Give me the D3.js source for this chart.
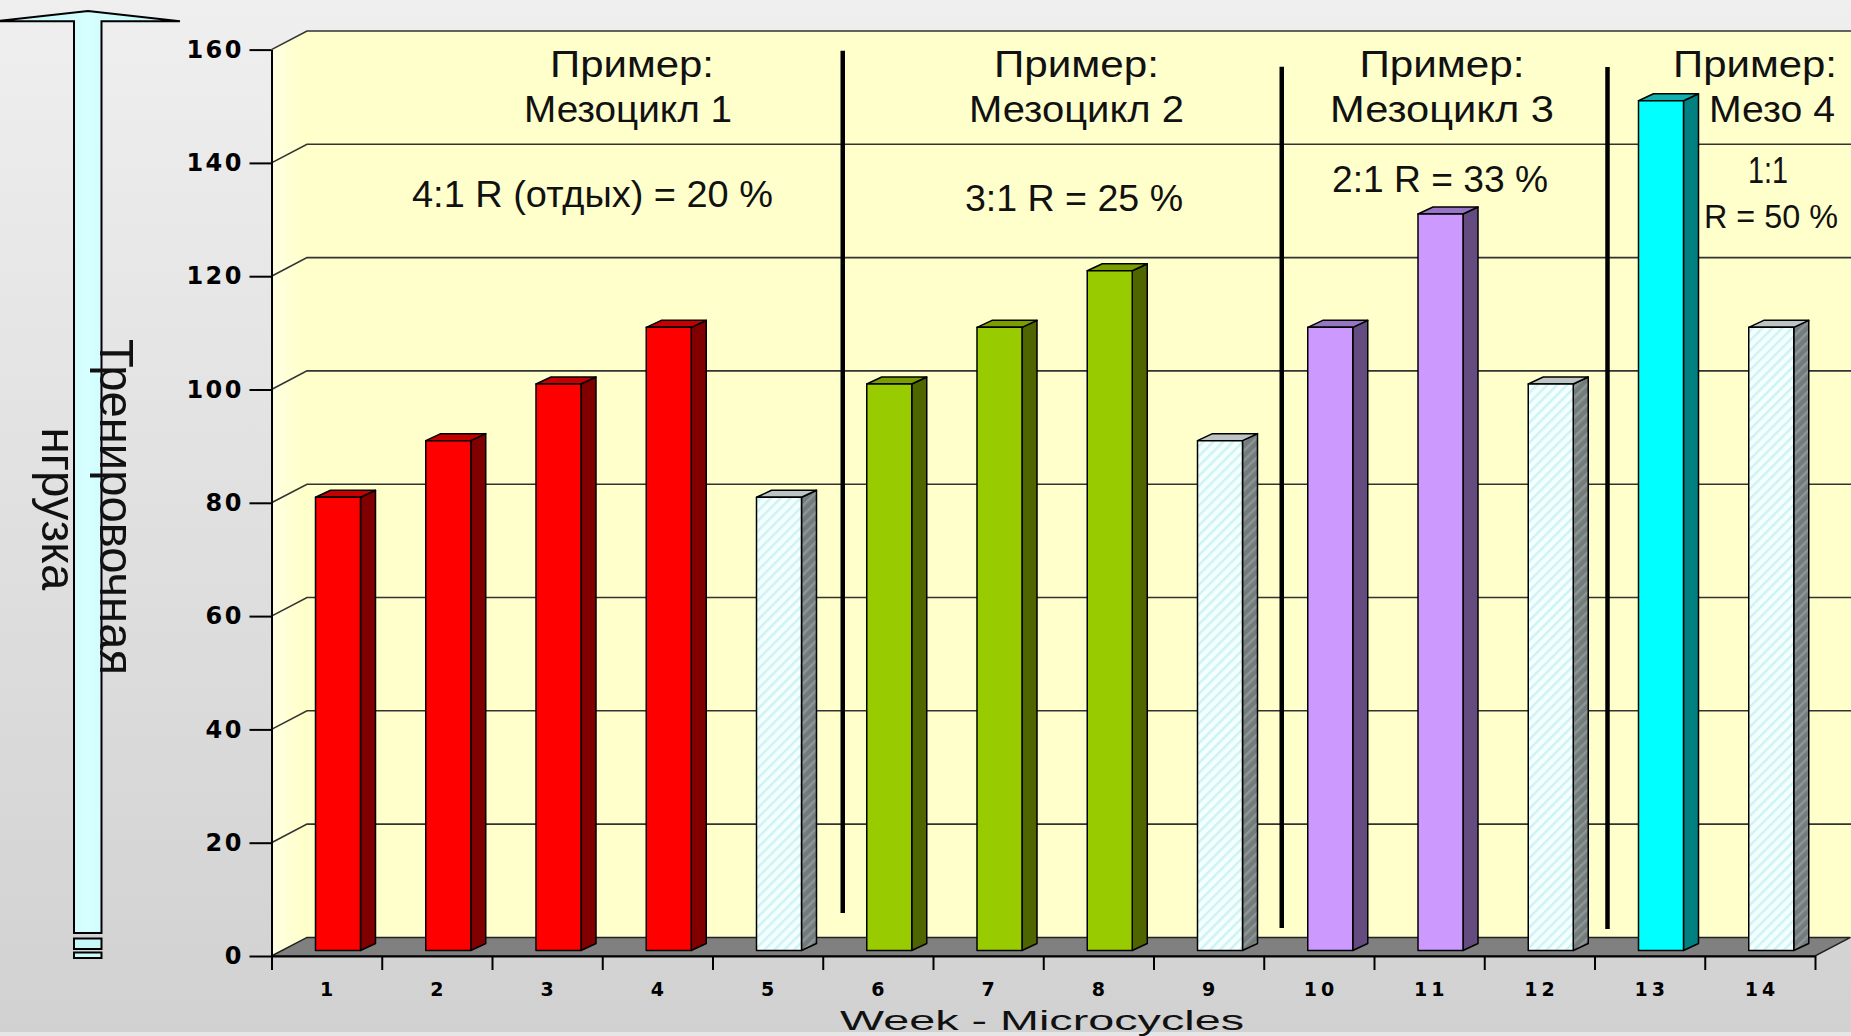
<!DOCTYPE html>
<html>
<head>
<meta charset="utf-8">
<title>Мезоциклы -- тренировочная нагрузка</title>
<script src="https://cdn.jsdelivr.net/npm/d3@7/dist/d3.min.js"></script>
<style>
  html, body { margin: 0; padding: 0; overflow: hidden; background: #ddd; }
  svg { display: block; }
  .axis path, .axis line { stroke: #000; stroke-width: 2; }
  .axis text { font-family: "DejaVu Sans", sans-serif; font-weight: bold; fill: #000; }
  .anno { font-family: "Liberation Sans", Arial, sans-serif; fill: #111; }
</style>
</head>
<body>
<script type="text/javascript">
// ---- data ----
var weeks = ["1","2","3","4","5","6","7","8","9","10","11","12","13","14"];
var load = [80, 90, 100, 110, 80, 100, 110, 120, 90, 110, 130, 100, 150, 110];
var mesocycle = [1, 1, 1, 1, 1, 2, 2, 2, 2, 3, 3, 3, 4, 4];
var restWeek = [0, 0, 0, 0, 1, 0, 0, 0, 1, 0, 0, 1, 0, 1];
var yTicks = [0, 20, 40, 60, 80, 100, 120, 140, 160];
var mesoTitles = [["Пример:", "Мезоцикл 1"], ["Пример:", "Мезоцикл 2"],
                  ["Пример:", "Мезоцикл  3"], ["Пример:", "Мезо 4"]];
var ratioLabels = [["4:1  R (отдых) = 20 %"], ["3:1  R = 25 %"],
                   ["2:1  R = 33 %"], ["1:1", "R = 50 %"]];
var yTitle = ["Тренировочная", "нгрузка"];
var xTitle = "Week - Microcycles";

var width = 1851, height = 1036,
    x0 = 271.5, x1 = 1815, yBase = 956, yTop = 49.6,
    depX = 35.5, depY = 18.6,     // wall depth
    barOffX = 44, barW = 45, barShiftY = 5.5, barDX = 15, barDY = 7;

var svg = d3.select("body").append("svg")
    .attr("width", width).attr("height", height);
var defs = svg.append("defs");

var x = d3.scaleBand().domain(weeks).range([x0, x1]);
var xb = d3.scaleLinear().domain([0, weeks.length]).range([x0, x1]);
var y = d3.scaleLinear().domain([0, 160]).range([yBase, yTop]);

var palette = {
  1: {front: "#ff0000", side: "#800000", top: "#c40000"},
  2: {front: "#99cc00", side: "#4f6600", top: "#7a9e00"},
  3: {front: "#cc99ff", side: "#654c80", top: "#9676c4"},
  4: {front: "#00ffff", side: "#008080", top: "#10b0b0"}
};

function gradient(id, x2, y2, stops) {
  var g = defs.append("linearGradient").attr("id", id)
    .attr("x1", 0).attr("y1", 0).attr("x2", x2).attr("y2", y2);
  stops.forEach(function(s) {
    g.append("stop").attr("offset", s[0]).attr("stop-color", s[1]);
  });
}
function hatch(id, bg, fg) {
  var p = defs.append("pattern").attr("id", id)
    .attr("patternUnits", "userSpaceOnUse").attr("width", 7).attr("height", 7)
    .attr("patternTransform", "rotate(45)");
  p.append("rect").attr("width", 7).attr("height", 7).attr("fill", bg);
  p.append("rect").attr("width", 2.5).attr("height", 7).attr("fill", fg);
}
gradient("bg", 0, 1, [[0, "#efefef"], [1, "#d1d1d1"]]);
gradient("sideWall", 1, 0, [[0, "#ffffe2"], [1, "#ffffc8"]]);
gradient("shaft", 1, 0, [[0, "#bff3f3"], [0.5, "#d6ffff"], [1, "#bff3f3"]]);
hatch("restFront", "#f6ffff", "#cdf3f3");
hatch("restSide", "#737b7b", "#8c9696");

function renderBackground() {
  svg.append("rect").attr("width", width).attr("height", height).attr("fill", "url(#bg)");
  svg.append("rect").attr("y", 1032).attr("width", width).attr("height", 4).attr("fill", "#e6e6e6");
}

function renderArrow() {
  svg.append("path")
    .attr("d", "M-4,21.3L88,11L180,21.3L101.5,21.3L101.5,933L74,933L74,21.3Z")
    .attr("fill", "url(#shaft)").attr("stroke", "#000").attr("stroke-width", 2);
  svg.append("rect").attr("x", 74).attr("y", 938.5).attr("width", 27.5).attr("height", 10.5)
    .attr("fill", "#c8f8f8").attr("stroke", "#000").attr("stroke-width", 2);
  svg.append("rect").attr("x", 74).attr("y", 952.5).attr("width", 27.5).attr("height", 5.5)
    .attr("fill", "#c8f8f8").attr("stroke", "#000").attr("stroke-width", 2);

  var pos = [[100, 507, 336], [42, 509, 163]];
  yTitle.forEach(function(t, i) {
    svg.append("text").attr("class", "anno")
      .attr("transform", "translate(" + pos[i][0] + "," + pos[i][1] + ") rotate(90)")
      .attr("text-anchor", "middle").attr("font-size", 49)
      .attr("textLength", pos[i][2]).attr("lengthAdjust", "spacingAndGlyphs")
      .text(t);
  });
}

function renderWalls() {
  var right = width + 60;
  svg.append("path")
    .attr("d", "M" + (x0 + depX) + "," + (yTop - depY) + "H" + right +
               "V" + (yBase - depY) + "H" + (x0 + depX) + "Z")
    .attr("fill", "#ffffcc");
  svg.append("path")
    .attr("d", "M" + x0 + "," + yTop + "L" + (x0 + depX) + "," + (yTop - depY) +
               "V" + (yBase - depY) + "L" + x0 + "," + yBase + "Z")
    .attr("fill", "url(#sideWall)");

  // gridlines: diagonal on the side wall, horizontal on the back wall
  var grid = svg.append("g").attr("stroke", "#333").attr("stroke-width", 1.6).attr("fill", "none");
  grid.selectAll("path").data(yTicks.filter(function(d) { return d > 0; }))
    .enter().append("path")
    .attr("d", function(d) {
      return "M" + x0 + "," + y(d) + "L" + (x0 + depX) + "," + (y(d) - depY) + "H" + right;
    });

  // floor
  svg.append("path")
    .attr("d", "M" + x0 + "," + yBase + "L" + (x0 + depX) + "," + (yBase - depY) +
               "H" + (x1 + depX) + "L" + x1 + "," + yBase + "Z")
    .attr("fill", "#808080").attr("stroke", "#222").attr("stroke-width", 1.5);
}

function renderDividers() {
  var offs = [20, 18, 13], tops = [50.7, 66.7, 67], bottoms = [913, 928, 929];
  var bounds = [];
  mesocycle.forEach(function(m, i) { if (i > 0 && m !== mesocycle[i - 1]) bounds.push(i); });
  svg.append("g").selectAll("line").data(bounds).enter().append("line")
    .attr("x1", function(d, i) { return xb(d) + offs[i]; })
    .attr("x2", function(d, i) { return xb(d) + offs[i]; })
    .attr("y1", function(d, i) { return tops[i]; })
    .attr("y2", function(d, i) { return bottoms[i]; })
    .attr("stroke", "#000").attr("stroke-width", 4.5);
}

function renderBars() {
  var bars = svg.append("g").selectAll("g").data(weeks).enter().append("g")
    .attr("stroke", "#000").attr("stroke-width", 1.5).attr("stroke-linejoin", "round");
  function geo(d, i) {
    var l = x(d) + barOffX, r = l + barW,
        t = y(load[i]) - barShiftY, b = y(0) - barShiftY;
    return {l: l, r: r, t: t, b: b};
  }
  bars.append("path")   // side
    .attr("d", function(d, i) {
      var g = geo(d, i);
      return "M" + g.r + "," + g.t + "L" + (g.r + barDX) + "," + (g.t - barDY) +
             "V" + (g.b - barDY) + "L" + g.r + "," + g.b + "Z";
    })
    .attr("fill", function(d, i) { return restWeek[i] ? "url(#restSide)" : palette[mesocycle[i]].side; });
  bars.append("path")   // top
    .attr("d", function(d, i) {
      var g = geo(d, i);
      return "M" + g.l + "," + g.t + "L" + (g.l + barDX) + "," + (g.t - barDY) +
             "H" + (g.r + barDX) + "L" + g.r + "," + g.t + "Z";
    })
    .attr("fill", function(d, i) { return restWeek[i] ? "#bcc4c4" : palette[mesocycle[i]].top; });
  bars.append("rect")   // front
    .attr("x", function(d, i) { return geo(d, i).l; })
    .attr("y", function(d, i) { return geo(d, i).t; })
    .attr("width", barW)
    .attr("height", function(d, i) { var g = geo(d, i); return g.b - g.t; })
    .attr("fill", function(d, i) { return restWeek[i] ? "url(#restFront)" : palette[mesocycle[i]].front; });
}

function renderAxes() {
  var yAxis = d3.axisLeft(y).tickValues(yTicks).tickSize(22).tickSizeOuter(0).tickPadding(8);
  var ya = svg.append("g").attr("class", "axis").attr("transform", "translate(" + x0 + ",0)").call(yAxis);
  ya.selectAll("text").attr("font-size", 24).attr("letter-spacing", 2.5).attr("dx", 2.5);

  var xTicks = d3.axisBottom(xb).tickValues(d3.range(weeks.length + 1))
    .tickSize(14).tickSizeOuter(0).tickFormat("");
  svg.append("g").attr("class", "axis").attr("transform", "translate(0," + yBase + ")").call(xTicks);

  var xLabels = d3.axisBottom(x).tickSize(0).tickPadding(27);
  var xa = svg.append("g").attr("class", "axis").attr("transform", "translate(0," + yBase + ")").call(xLabels);
  xa.select(".domain").remove();
  xa.selectAll("text").attr("font-size", 19).attr("letter-spacing", 4).attr("dx", 2);

  svg.append("text").attr("class", "anno")
    .attr("x", 1042).attr("y", 1030).attr("text-anchor", "middle")
    .attr("font-family", "DejaVu Sans, sans-serif").attr("font-size", 28)
    .attr("textLength", 404).attr("lengthAdjust", "spacingAndGlyphs")
    .text(xTitle);
}

function renderNotes() {
  // [x centre, baseline, width, size] for each line of each block
  var titlePos = [
    [[632, 77, 164, 37], [628, 122, 208, 37]],
    [[1076.5, 77, 165, 37], [1076.5, 122, 215, 37]],
    [[1442, 77, 165, 37], [1442, 122, 224, 37]],
    [[1755, 77, 164, 37], [1772, 122, 126, 37]]
  ];
  var ratioPos = [
    [[592.5, 207, 361, 37]],
    [[1074, 211, 218, 37]],
    [[1440, 192, 216, 37]],
    [[1768, 183, 40, 36], [1771, 228, 134, 34]]
  ];
  function put(lines, pos) {
    lines.forEach(function(t, i) {
      svg.append("text").attr("class", "anno")
        .attr("x", pos[i][0]).attr("y", pos[i][1]).attr("text-anchor", "middle")
        .attr("font-size", pos[i][3])
        .attr("textLength", pos[i][2]).attr("lengthAdjust", "spacingAndGlyphs")
        .text(t);
    });
  }
  mesoTitles.forEach(function(lines, k) { put(lines, titlePos[k]); });
  ratioLabels.forEach(function(lines, k) { put(lines, ratioPos[k]); });
}

renderBackground();
renderArrow();
renderWalls();
renderDividers();
renderBars();
renderAxes();
renderNotes();
</script>
</body>
</html>
